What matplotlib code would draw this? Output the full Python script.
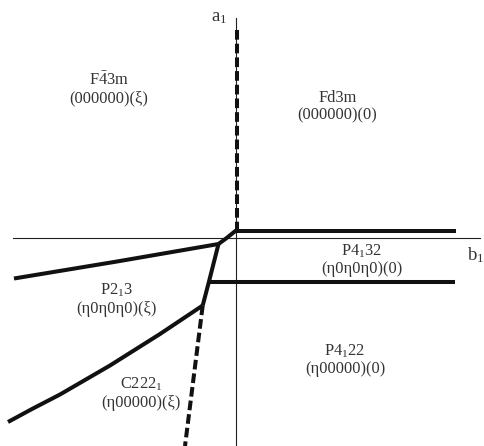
import matplotlib.pyplot as plt

plt.rcParams['font.family'] = ['Liberation Serif', 'DejaVu Serif']
plt.rcParams['mathtext.fontset'] = 'custom'
plt.rcParams['mathtext.rm'] = 'Liberation Serif'
plt.rcParams['mathtext.it'] = 'Liberation Serif:italic'

# phase boundaries in the (b1, a1) plane
top_dash_b = [0.05, 0.05]
top_dash_a = [20.8, 0.75]

right_upper_b = [0.0, 22.0]
right_upper_a = [0.75, 0.75]

knee_b = [0.0, -0.5, -1.0, -1.75]
knee_a = [0.75, 0.35, -0.05, -0.6]

left_upper_b = [-1.75, -11.9, -22.2]
left_upper_a = [-0.6, -2.35, -4.05]

steep_b = [-1.75, -2.7, -3.33]
steep_a = [-0.6, -4.35, -6.75]

right_lower_b = [-2.7, 21.9]
right_lower_a = [-4.4, -4.4]

left_lower_b = [-3.33, -7.6, -12.6, -17.6, -20.4, -22.8]
left_lower_a = [-6.75, -9.6, -12.75, -15.65, -17.1, -18.4]

bottom_dash_b = [-3.33, -5.1]
bottom_dash_a = [-6.75, -20.8]

# phase labels
phase_names = [r'F$\bar{4}$3m', 'Fd3m', r'P4$_{1}$32', r'P2$_{1}$3', r'P4$_{1}$22', r'C222$_{1}$']
phase_params = ['(000000)(ξ)', '(000000)(0)', '(η0η0η0)(0)', '(η0η0η0)(ξ)', '(η00000)(0)', '(η00000)(ξ)']
label_b = [-12.7, 10.15, 12.6, -11.95, 10.9, -9.5]
label_a = [14.9, 13.15, -2.2, -6.15, -12.2, -15.55]

fig = plt.figure(figsize=(4.85, 4.46), dpi=100)
ax = fig.add_axes([0, 0, 1, 1])
ax.set_xlim(-23.6, 24.9)
ax.set_ylim(-20.8, 23.8)
ax.axis('off')

# thin coordinate axes
ax.plot([-22.3, 24.4], [0, 0], color='#222222', lw=0.8)
ax.plot([0, 0], [22.0, -20.8], color='#222222', lw=0.8)

thick = dict(color='#111111', lw=2.9, solid_joinstyle='round', solid_capstyle='butt')
dashed = dict(color='#111111', lw=2.9, linestyle=(0, (2.4, 1.0)))

ax.plot(top_dash_b, top_dash_a, **dashed)
ax.plot(bottom_dash_b, bottom_dash_a, **dashed)
ax.plot(right_upper_b, right_upper_a, **thick)
ax.plot(knee_b, knee_a, **thick)
ax.plot(left_upper_b, left_upper_a, **thick)
ax.plot(steep_b, steep_a, **thick)
ax.plot(right_lower_b, right_lower_a, **thick)
ax.plot(left_lower_b, left_lower_a, **thick)

for name, par, b, a in zip(phase_names, phase_params, label_b, label_a):
    ax.text(b, a, name + '\n' + par, ha='center', va='center',
            fontsize=11.8, linespacing=1.12, color='#333333')

ax.text(-1.7, 22.1, r'a$_{1}$', fontsize=13.5, ha='center', va='center', color='#333333')
ax.text(24.85, -1.7, r'b$_{1}$', fontsize=13.5, ha='right', va='center', color='#333333')

fig.savefig('out.png', dpi=100)
